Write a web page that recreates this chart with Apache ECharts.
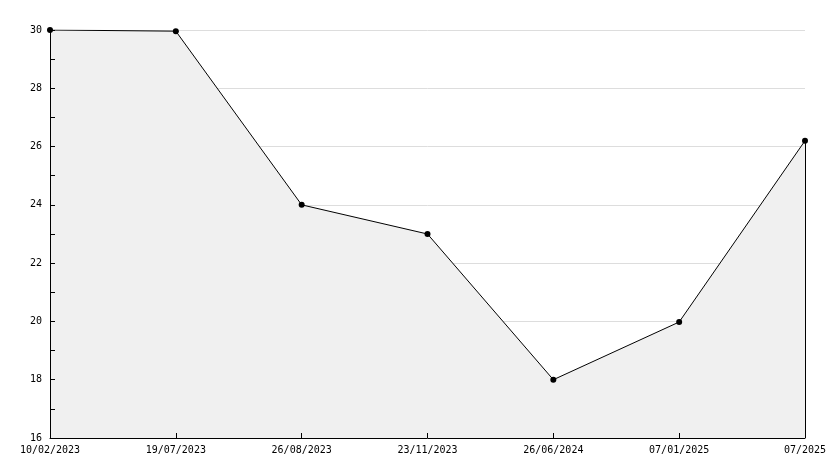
<!DOCTYPE html>
<html>
<head>
<meta charset="utf-8">
<script src="https://cdn.jsdelivr.net/npm/echarts@6/dist/echarts.min.js"></script>
<style>html,body{margin:0;padding:0;background:#fff}#c{width:834px;height:468px}</style>
</head>
<body>
<div id="c"></div>
<script>
const categories = ['10/02/2023','19/07/2023','26/08/2023','23/11/2023','26/06/2024','07/01/2025','07/2025'];
const values = [30, 29.96, 24, 23, 18, 19.98, 26.2];
const yMin = 16, yMax = 30, yStep = 2;

const chart = echarts.init(document.getElementById('c'), null, {renderer:'canvas'});
const font = 'DejaVu Sans Mono';
const lastIdx = categories.length - 1;
chart.setOption({
  animation: false,
  backgroundColor: '#fff',
  grid: {left: 50, right: 29, top: 30, bottom: 30, containLabel: false},
  xAxis: [{
    type: 'category', data: categories, boundaryGap: false, z: 0,
    axisLine: {show: false}, axisTick: {show: false}, axisLabel: {show: false},
    splitLine: {show: false}
  }, {
    type: 'category', data: categories, boundaryGap: false, position: 'bottom', z: 10,
    axisLine: {lineStyle: {color: '#000', width: 1}},
    axisTick: {show: true, inside: true, length: 5, lineStyle: {color: '#000'}},
    axisLabel: {color: '#000', fontFamily: font, fontSize: 10, margin: 7, interval: 0},
    splitLine: {show: false}
  }],
  yAxis: [{
    type: 'value', min: yMin, max: yMax, interval: yStep, z: 0,
    axisLine: {show: false}, axisTick: {show: false}, axisLabel: {show: false},
    splitLine: {show: true, lineStyle: {color: '#dddddd', width: 1}}
  }, {
    type: 'value', min: yMin, max: yMax, interval: yStep, position: 'left', offset: 0, z: 10,
    axisLine: {show: true, lineStyle: {color: '#000', width: 1}},
    axisTick: {show: true, inside: true, length: 5, lineStyle: {color: '#000'}},
    minorTick: {show: true, splitNumber: 2, length: 5, lineStyle: {color: '#000'}},
    axisLabel: {color: '#000', fontFamily: font, fontSize: 10, margin: 8},
    splitLine: {show: false}
  }],
  series: [{
    type: 'line', data: values, xAxisIndex: 0, yAxisIndex: 0, z: 2,
    lineStyle: {color: '#000', width: 1},
    itemStyle: {color: '#000'},
    symbol: 'circle', symbolSize: 6,
    areaStyle: {color: '#f0f0f0', opacity: 1},
    markLine: {
      silent: true, symbol: 'none', label: {show: false},
      lineStyle: {color: '#000', width: 1, type: 'solid'},
      data: [[{coord: [lastIdx, values[lastIdx]]}, {coord: [lastIdx, yMin]}]]
    }
  }]
});
</script>
</body>
</html>
